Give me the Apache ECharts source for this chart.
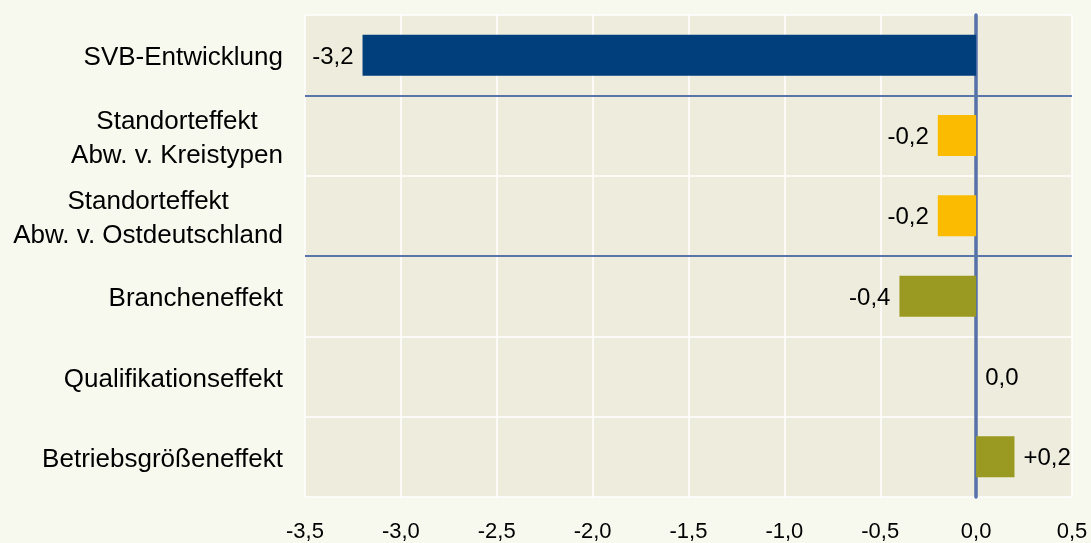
<!DOCTYPE html>
<html>
<head>
<meta charset="utf-8">
<script src="https://cdn.jsdelivr.net/npm/echarts@6/dist/echarts.min.js"></script>
<style>
html,body{margin:0;padding:0;background:#f8f9ee;}
#c{width:1091px;height:543px;}
</style>
</head>
<body>
<div id="c"></div>
<script>
var categories = [
  'SVB-Entwicklung',
  'Standorteffekt\nAbw. v. Kreistypen',
  'Standorteffekt\nAbw. v. Ostdeutschland',
  'Brancheneffekt',
  'Qualifikationseffekt',
  'Betriebsgrößeneffekt'
];
var values = [-3.2, -0.2, -0.2, -0.4, 0.0, 0.2];
var xTicks = [-3.5, -3.0, -2.5, -2.0, -1.5, -1.0, -0.5, 0.0, 0.5];
var separatorsAfter = [1, 3];

var barColors = ['#003f7c', '#fbbb00', '#fbbb00', '#9a9a22', '#9a9a22', '#9a9a22'];

var FONT = '"Liberation Sans", Arial, sans-serif';
function fmt(v, sign) {
  var s = Math.abs(v).toFixed(1).replace('.', ',');
  if (v < 0) return '-' + s;
  if (v > 0 && sign) return '+' + s;
  return s;
}

var chart = echarts.init(document.getElementById('c'), null, {renderer: 'canvas'});
chart.setOption({
  backgroundColor: '#f8f9ee',
  animation: false,
  grid: {left: 305, right: 19, top: 15, bottom: 43, show: true, backgroundColor: '#eeecdd', borderWidth: 0},
  xAxis: {
    type: 'value', min: xTicks[0], max: xTicks[xTicks.length - 1], interval: 0.5,
    axisLine: {show: false}, axisTick: {show: false},
    axisLabel: {formatter: function (v) { return fmt(v, false); }, fontSize: 22, color: '#000', fontFamily: FONT, margin: 24},
    splitLine: {show: true, lineStyle: {color: '#ffffff', width: 1.5}}
  },
  yAxis: [{
    type: 'category', data: categories, inverse: true,
    axisLine: {show: true, onZero: true, lineStyle: {color: '#5670a8', width: 3.5}},
    axisTick: {show: false},
    axisLabel: {
      margin: 22, fontFamily: FONT, color: '#000', fontSize: 26, padding: [6, 0, 0, 0],
      formatter: function (v) { return v.split('\n').map(function (l) { return '{c|' + l + '}'; }).join('\n'); },
      rich: {c: {align: 'center', fontSize: 26, lineHeight: 34, fontFamily: FONT, color: '#000'}}
    },
    splitLine: {show: true, lineStyle: {color: '#ffffff', width: 1.5}}
  }, {
    type: 'value', min: 0, max: categories.length, inverse: true, show: false
  }],
  series: [{
    type: 'bar', barWidth: 41, xAxisIndex: 0, yAxisIndex: 0,
    data: values.map(function (v, i) {
      return {
        value: v,
        itemStyle: {color: barColors[i]},
        label: {position: v < 0 ? 'left' : 'right'}
      };
    }),
    label: {
      show: true, distance: 9, fontSize: 24, color: '#000', fontFamily: FONT, offset: [0, 2],
      formatter: function (p) { return fmt(p.value, true); }
    },
    z: 2
  }, {
    type: 'line', xAxisIndex: 0, yAxisIndex: 1, data: [],
    markLine: {
      silent: true, symbol: 'none', label: {show: false},
      lineStyle: {color: '#5a74ac', width: 2, type: 'solid'},
      data: separatorsAfter.map(function (s) { return {yAxis: s}; })
    },
    z: 3
  }]
});
</script>
</body>
</html>
